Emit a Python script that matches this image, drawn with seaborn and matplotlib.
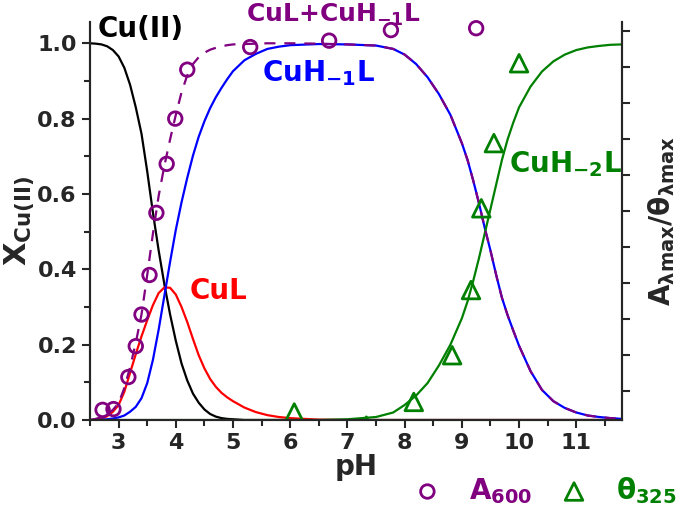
import numpy as np
import pandas as pd
import matplotlib
matplotlib.use("Agg")
import matplotlib.pyplot as plt
import seaborn as sns

# species distribution
ph = [2.5, 2.6, 2.7, 2.8, 2.9, 3.0, 3.1, 3.2, 3.3, 3.4, 3.5, 3.6, 3.7, 3.8, 3.9, 4.0,
      4.1, 4.2, 4.3, 4.4, 4.5, 4.6, 4.7, 4.8, 4.9, 5.0, 5.2, 5.4, 5.6, 5.8, 6.0,
      6.5, 7.0, 7.5, 7.8, 8.0, 8.2, 8.4, 8.6, 8.8, 9.0, 9.1, 9.2, 9.3, 9.4, 9.5,
      9.6, 9.7, 9.8, 9.9, 10.0, 10.2, 10.4, 10.6, 10.8, 11.0, 11.2, 11.4, 11.6, 11.8]

cu2 = [1.0, 0.999, 0.997, 0.992, 0.982, 0.965, 0.935, 0.89, 0.83, 0.76, 0.66, 0.55,
       0.45, 0.36, 0.28, 0.21, 0.15, 0.105, 0.07, 0.046, 0.028, 0.016, 0.009, 0.005,
       0.003, 0.002, 0.0, 0.0, 0.0, 0.0, 0.0, 0.0, 0.0, 0.0, 0.0, 0.0, 0.0, 0.0,
       0.0, 0.0, 0.0, 0.0, 0.0, 0.0, 0.0, 0.0, 0.0, 0.0, 0.0, 0.0, 0.0, 0.0, 0.0,
       0.0, 0.0, 0.0, 0.0, 0.0, 0.0, 0.0]

cul = [0.0, 0.001, 0.004, 0.01, 0.022, 0.04, 0.075, 0.125, 0.175, 0.222, 0.265, 0.305,
       0.337, 0.352, 0.351, 0.333, 0.30, 0.26, 0.215, 0.172, 0.137, 0.109, 0.088, 0.072,
       0.06, 0.05, 0.033, 0.021, 0.013, 0.008, 0.005, 0.001, 0.0, 0.0, 0.0, 0.0,
       0.0, 0.0, 0.0, 0.0, 0.0, 0.0, 0.0, 0.0, 0.0, 0.0, 0.0, 0.0, 0.0, 0.0, 0.0,
       0.0, 0.0, 0.0, 0.0, 0.0, 0.0, 0.0, 0.0, 0.0]

cuh1 = [0.0, 0.0, 0.001, 0.002, 0.004, 0.007, 0.012, 0.022, 0.035, 0.058, 0.098, 0.16,
        0.24, 0.33, 0.42, 0.505, 0.578, 0.643, 0.702, 0.752, 0.793, 0.828, 0.857, 0.882,
        0.905, 0.926, 0.955, 0.972, 0.985, 0.991, 0.995, 0.998, 0.997, 0.994, 0.985,
        0.97, 0.945, 0.91, 0.865, 0.81, 0.735, 0.69, 0.635, 0.575, 0.51, 0.45, 0.385,
        0.325, 0.278, 0.237, 0.197, 0.13, 0.08, 0.05, 0.032, 0.02, 0.012, 0.008, 0.005, 0.003]

cuh2 = [0.0, 0.0, 0.0, 0.0, 0.0, 0.0, 0.0, 0.0, 0.0, 0.0, 0.0, 0.0, 0.0, 0.0, 0.0, 0.0,
        0.0, 0.0, 0.0, 0.0, 0.0, 0.0, 0.0, 0.0, 0.0, 0.0, 0.0, 0.0, 0.0, 0.0, 0.0,
        0.0, 0.002, 0.008, 0.02, 0.04, 0.065, 0.098, 0.145, 0.2, 0.27, 0.315, 0.37,
        0.43, 0.495, 0.56, 0.625, 0.69, 0.745, 0.79, 0.83, 0.885, 0.925, 0.952, 0.97,
        0.982, 0.989, 0.993, 0.996, 0.997]

# dashed CuL + CuH-1L line
cul_sum = [0.0, 0.003, 0.008, 0.015, 0.027, 0.045, 0.085, 0.14, 0.205, 0.28, 0.385, 0.495,
           0.595, 0.675, 0.745, 0.81, 0.87, 0.915, 0.945, 0.963, 0.975, 0.983, 0.988, 0.992,
           0.995, 0.997, 0.998, 0.999, 1.0, 1.0, 1.0, 0.999, 0.997, 0.994, 0.985,
           0.97, 0.945, 0.91, 0.865, 0.81, 0.735, 0.69, 0.635, 0.575, 0.51, 0.45, 0.385,
           0.325, 0.278, 0.237, 0.197, 0.13, 0.08, 0.05, 0.032, 0.02, 0.012, 0.008, 0.005, 0.003]

# experimental points
ph_a600 = [2.72, 2.91, 3.17, 3.30, 3.40, 3.54, 3.66, 3.84, 3.99, 4.20, 5.30, 6.68, 7.76, 9.25]
a600 = [0.027, 0.029, 0.114, 0.196, 0.28, 0.385, 0.55, 0.68, 0.80, 0.93, 0.99, 1.007, 1.035, 1.04]

ph_th325 = [6.07, 7.33, 8.16, 8.83, 9.16, 9.34, 9.56, 10.0]
th325 = [0.02, -0.015, 0.048, 0.172, 0.345, 0.562, 0.735, 0.947]

curves = pd.DataFrame({"pH": ph, "cu2": cu2, "cul": cul, "cuh1": cuh1,
                       "cuh2": cuh2, "sum": cul_sum})
pts_a = pd.DataFrame({"pH": ph_a600, "val": a600})
pts_t = pd.DataFrame({"pH": ph_th325, "val": th325})

sns.set_style("ticks")
plt.rcParams["font.family"] = ["DejaVu Sans"]
plt.rcParams["font.weight"] = "bold"
plt.rcParams["mathtext.fontset"] = "dejavusans"
plt.rcParams["axes.linewidth"] = 1.5

PURPLE = "#800080"
GREEN = "#008000"

fig = plt.figure(figsize=(6.84, 5.16), dpi=100)
ax = fig.add_axes([0.1316, 0.186, 0.7778, 0.771])

lw = 1.6
sns.lineplot(data=curves, x="pH", y="cu2", color="black", lw=lw, ax=ax)
sns.lineplot(data=curves, x="pH", y="cul", color="#ff0000", lw=lw, ax=ax)
sns.lineplot(data=curves, x="pH", y="cuh1", color="#0000ff", lw=lw, ax=ax)
sns.lineplot(data=curves, x="pH", y="cuh2", color=GREEN, lw=lw, ax=ax)
sns.lineplot(data=curves, x="pH", y="sum", color=PURPLE, lw=lw, ax=ax,
             dashes=False, linestyle=(0, (5, 4)))

sns.scatterplot(data=pts_a, x="pH", y="val", marker="o", s=95, facecolor="none",
                edgecolor=PURPLE, linewidth=2, ax=ax, label=r"A$_{\mathbf{600}}$",
                clip_on=False, zorder=5)
sns.scatterplot(data=pts_t, x="pH", y="val", marker="^", s=160, facecolor="none",
                edgecolor=GREEN, linewidth=2, ax=ax, label=r"$\mathbf{\theta_{325}}$",
                zorder=5)

ax.set_xlim(2.5, 11.8)
ax.set_ylim(0, 1.056)
ax.set_xticks([3, 4, 5, 6, 7, 8, 9, 10, 11])
ax.set_xticks(np.arange(2.5, 11.8, 0.5), minor=True)
ax.set_yticks([0.0, 0.2, 0.4, 0.6, 0.8, 1.0])
ax.set_yticks(np.arange(0.1, 1.05, 0.2), minor=True)
ax.set_yticklabels(["0.0", "0.2", "0.4", "0.6", "0.8", "1.0"])
ax.tick_params(which="major", length=6, width=1.5, labelsize=16, direction="out")
ax.tick_params(which="minor", length=4, width=1.5, direction="out")
ax.spines["top"].set_visible(False)

ax.set_xlabel("pH", fontsize=20, fontweight="bold", labelpad=0)
ax.set_ylabel(r"X$_{\mathbf{Cu(II)}}$", fontsize=22, fontweight="bold", labelpad=0)

ax2 = ax.twinx()
ax2.set_ylim(0.19, 11.25)
ax2.set_yticks(range(1, 12))
ax2.set_yticklabels([])
ax2.tick_params(length=6, width=1.5, direction="out")
ax2.spines["top"].set_visible(False)
ax2.set_ylabel(r"A$_{\mathbf{\lambda max}}$/$\mathbf{\theta_{\lambda max}}$",
               fontsize=20, fontweight="bold", labelpad=8)

# curve labels
ax.text(2.64, 1.016, "Cu(II)", color="black", fontsize=20, fontweight="bold")
ax.text(4.24, 0.321, "CuL", color="#ff0000", fontsize=20, fontweight="bold")
ax.text(5.50, 0.90, r"CuH$_{\mathbf{-1}}$L", color="#0000ff", fontsize=20, fontweight="bold")
ax.text(9.82, 0.658, r"CuH$_{\mathbf{-2}}$L", color=GREEN, fontsize=20, fontweight="bold")
ax.text(5.23, 1.056, r"CuL+CuH$_{\mathbf{-1}}$L", color=PURPLE, fontsize=18,
        fontweight="bold", clip_on=False)

if ax.get_legend():
    ax.get_legend().remove()
h, l = ax.get_legend_handles_labels()
fig.legend(h, l, loc="center right", bbox_to_anchor=(1.005, 0.05), ncol=2, frameon=False,
           fontsize=20, labelcolor=[PURPLE, GREEN], handlelength=1.0, handletextpad=1.0,
           columnspacing=1.0, borderaxespad=0.0)

fig.savefig("out.png", dpi=100)
